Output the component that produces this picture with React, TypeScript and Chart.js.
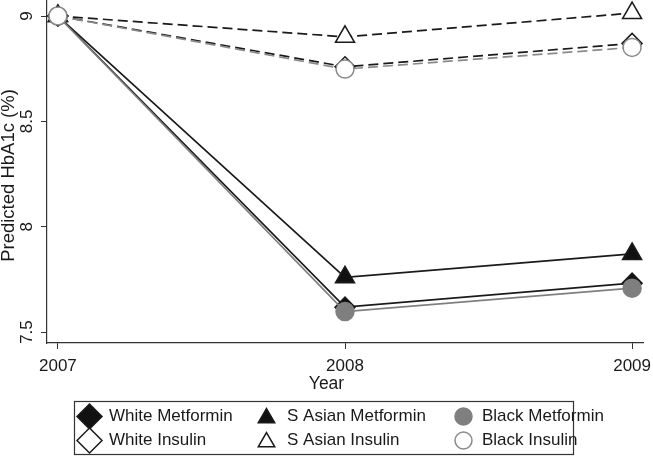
import React, { useEffect, useRef } from "react";
import { Chart, registerables } from "chart.js";

Chart.register(...registerables);

const years = [2007, 2008, 2009];
const yTicks = [7.5, 8, 8.5, 9];
const whiteMetformin = [9.0, 7.618, 7.732];
const sAsianMetformin = [9.0, 7.76, 7.871];
const blackMetformin = [9.0, 7.597, 7.708];
const whiteInsulin = [9.0, 8.759, 8.87];
const sAsianInsulin = [9.0, 8.901, 9.014];
const blackInsulin = [9.0, 8.748, 8.851];

const yTitle = "Predicted HbA1c (%)";
const xTitle = "Year";

const FONT = "Arial, 'Liberation Sans', sans-serif";
const DARK = "#1a1a1a";
const GRAY = "#7f7f7f";

type Series = {
  label: string;
  values: number[];
  color: string;
  fill: string;
  shape: string;
  radius: number;
  dashed: boolean;
  order: number;
};

const series: Series[] = [
  { label: "White Metformin", values: whiteMetformin, color: DARK, fill: "#111", shape: "rectRot", radius: 10, dashed: false, order: 5 },
  { label: "S Asian Metformin", values: sAsianMetformin, color: DARK, fill: "#111", shape: "triangle", radius: 11, dashed: false, order: 6 },
  { label: "Black Metformin", values: blackMetformin, color: GRAY, fill: GRAY, shape: "circle", radius: 9, dashed: false, order: 4 },
  { label: "White Insulin", values: whiteInsulin, color: DARK, fill: "#fff", shape: "rectRot", radius: 10, dashed: true, order: 2 },
  { label: "S Asian Insulin", values: sAsianInsulin, color: DARK, fill: "#fff", shape: "triangle", radius: 11, dashed: true, order: 3 },
  { label: "Black Insulin", values: blackInsulin, color: "#8a8a8a", fill: "#fff", shape: "circle", radius: 9, dashed: true, order: 1 },
];

function drawMarker(ctx: CanvasRenderingContext2D, shape: string, x: number, y: number, r: number, fill: string, stroke: string) {
  ctx.beginPath();
  if (shape === "rectRot") {
    ctx.moveTo(x, y - r);
    ctx.lineTo(x + r, y);
    ctx.lineTo(x, y + r);
    ctx.lineTo(x - r, y);
    ctx.closePath();
  } else if (shape === "triangle") {
    const h = r * 1.5;
    const w = r * Math.sqrt(3) / 2;
    ctx.moveTo(x, y - r);
    ctx.lineTo(x + w, y + h - r);
    ctx.lineTo(x - w, y + h - r);
    ctx.closePath();
  } else {
    ctx.arc(x, y, r, 0, Math.PI * 2);
  }
  ctx.fillStyle = fill;
  ctx.fill();
  ctx.lineWidth = 1.5;
  ctx.strokeStyle = stroke;
  ctx.stroke();
}

const customText = {
  id: "customText",
  afterDraw(chart: any) {
    const ctx: CanvasRenderingContext2D = chart.ctx;
    const ys = chart.scales.y;
    ctx.save();
    ctx.fillStyle = DARK;
    ctx.font = `17px ${FONT}`;
    ctx.textAlign = "center";
    ctx.textBaseline = "middle";
    for (const v of yTicks) {
      const py = ys.getPixelForValue(v);
      ctx.save();
      ctx.translate(27, py);
      ctx.rotate(-Math.PI / 2);
      ctx.fillText(String(v), 0, 0);
      ctx.restore();
    }
    ctx.save();
    ctx.font = `18.5px ${FONT}`;
    ctx.translate(8.5, (chart.chartArea.top + chart.chartArea.bottom) / 2 + 4);
    ctx.rotate(-Math.PI / 2);
    ctx.fillText(yTitle, 0, 0);
    ctx.restore();
    ctx.font = `17.5px ${FONT}`;
    ctx.fillText(xTitle, chart.width / 2, 384);

    // legend
    const bx = 74, by = 401, bw = 499, bh = 53;
    ctx.lineWidth = 1.2;
    ctx.strokeStyle = "#333";
    ctx.strokeRect(bx + 0.5, by + 0.5, bw, bh);
    const colX = [89.5, 266.5, 463.5];
    const textX = [109, 287, 482];
    const rowY = [416.5, 440.5];
    const legendR: Record<string, number> = { rectRot: 12.5, triangle: 9.5, circle: 8.5 };
    series.forEach((s, i) => {
      const col = i % 3;
      const row = Math.floor(i / 3);
      const mx = colX[col];
      const my = rowY[row] - (s.shape === "triangle" ? -1.5 : 0);
      drawMarker(ctx, s.shape, mx, my, legendR[s.shape], s.fill, s.color);
      ctx.fillStyle = DARK;
      ctx.font = `17px ${FONT}`;
      ctx.textAlign = "left";
      ctx.textBaseline = "middle";
      ctx.fillText(s.label, textX[col], rowY[row]);
    });
    ctx.restore();
  },
};

export default function App() {
  const ref = useRef<HTMLCanvasElement | null>(null);
  useEffect(() => {
    document.body.style.margin = "0";
    const canvas = ref.current!;
    const chart = new Chart(canvas, {
      type: "line",
      data: {
        datasets: series.map((s) => ({
          label: s.label,
          data: years.map((x, i) => ({ x, y: s.values[i] })),
          borderColor: s.color,
          backgroundColor: s.fill,
          borderWidth: 1.7,
          borderDash: s.dashed ? [10, 5] : [],
          pointStyle: s.shape as any,
          pointRadius: s.radius,
          pointBackgroundColor: s.fill,
          pointBorderColor: s.color,
          pointBorderWidth: 1.5,
          tension: 0,
          fill: false,
          order: s.order,
          clip: false as any,
        })),
      },
      options: {
        animation: false,
        responsive: false,
        maintainAspectRatio: false,
        layout: { autoPadding: false, padding: { left: 0, right: 10, top: 0, bottom: 84 } },
        plugins: {
          legend: { display: false },
          tooltip: { enabled: false },
        },
        scales: {
          x: {
            type: "linear",
            min: 2006.962,
            max: 2009.038,
            afterBuildTicks: (s: any) => {
              s.ticks = years.map((v) => ({ value: v }));
            },
            afterFit: (s: any) => {
              s.height = 30;
              s.paddingLeft = 0;
              s.paddingRight = 0;
            },
            ticks: {
              color: DARK,
              font: { family: FONT, size: 17 },
              padding: 7,
              maxRotation: 0,
              minRotation: 0,
              callback: (v: any) => String(v),
            },
            grid: { display: true, drawOnChartArea: false, drawTicks: true, tickLength: 6, color: "#333", lineWidth: 1 },
            border: { display: true, color: "#333", width: 1.2 },
          },
          y: {
            type: "linear",
            min: 7.448,
            max: 9.076,
            afterBuildTicks: (s: any) => {
              s.ticks = yTicks.map((v) => ({ value: v }));
            },
            afterFit: (s: any) => {
              s.width = 47;
              s.paddingTop = 0;
              s.paddingBottom = 0;
            },
            ticks: { display: false },
            grid: { display: true, drawOnChartArea: false, drawTicks: true, tickLength: 6, color: "#333", lineWidth: 1 },
            border: { display: true, color: "#333", width: 1.2 },
          },
        },
      },
      plugins: [customText],
    });
    return () => chart.destroy();
  }, []);
  return (
    <div style={{ width: 653, height: 457, background: "#fff" }}>
      <canvas ref={ref} width={653} height={457} style={{ display: "block" }} />
    </div>
  );
}
